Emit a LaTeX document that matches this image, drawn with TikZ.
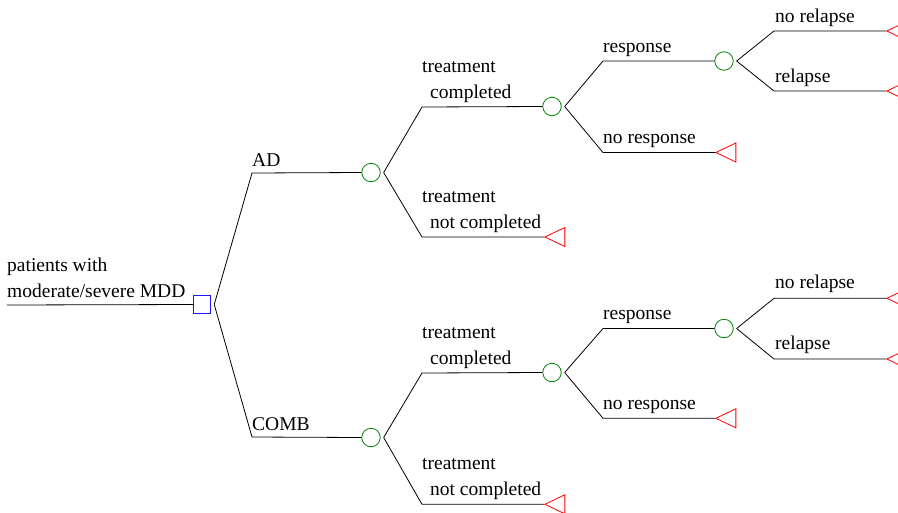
\documentclass[tikz,border=0pt]{standalone}
\usepackage{fontspec}
\setmainfont{Liberation Serif}
\usetikzlibrary{shapes.geometric}

\begin{document}
\begin{tikzpicture}[x=1pt, y=-1pt,
  every node/.style={font=\fontsize{19.5}{26}\selectfont},
  decision/.style={draw=blue!90!white, line width=1pt, rectangle, minimum width=17.5pt, minimum height=18.3pt, inner sep=0pt},
  chance/.style={draw=green!50!black, line width=0.8pt, circle, minimum size=18.5pt, inner sep=0pt},
  terminal/.style={draw=red, line width=0.8pt, isosceles triangle, isosceles triangle apex angle=56,
    isosceles triangle stretches, shape border rotate=180, minimum width=19pt, minimum height=20pt,
    inner sep=0pt, anchor=apex},
  branch/.style={line width=0.8pt},
  lab/.style={anchor=base west, inner sep=0pt, align=left},
]
\useasboundingbox (0,0) rectangle (898,512);

% root and decision
\coordinate (root) at (7,305);
\node[decision] (dec) at (202,304.5) {};
\node[lab] (lroot) at (7,297) {patients with\\moderate/severe MDD};
\draw[branch] (root) -- (dec.west);

% AD arm
\coordinate (kA) at (252,173);
\node[chance] (cA) at (371,172.5) {};
\node[lab] (lA) at (252,166) {AD};
\draw[branch] ([xshift=3pt]dec.east) -- (kA) -- (cA.west);

\coordinate (kA1) at (422,107);
\node[chance] (cA1) at (552,106.5) {};
\node[lab] (lA1) at (422,98) {treatment\\\hspace*{8pt}completed};
\draw[branch] ([xshift=3pt]cA.east) -- (kA1) -- (cA1.west);
\coordinate (kA2) at (422,237);
\node[terminal] (tA2) at (544,237) {};
\node[lab] (lA2) at (422,228) {treatment\\\hspace*{8pt}not completed};
\draw[branch] ([xshift=3pt]cA.east) -- (kA2) -- (tA2.apex);

\coordinate (kA11) at (603,61);
\node[chance] (cA11) at (724,61) {};
\node[lab] (lA11) at (603,52) {response};
\draw[branch] ([xshift=3pt]cA1.east) -- (kA11) -- (cA11.west);
\coordinate (kA12) at (603,152.5);
\node[terminal] (tA12) at (715,152.5) {};
\node[lab] (lA12) at (603,143.5) {no response};
\draw[branch] ([xshift=3pt]cA1.east) -- (kA12) -- (tA12.apex);

\coordinate (kA111) at (774,31);
\node[terminal] (tA111) at (886,31) {};
\node[lab] (lA111) at (775,22) {no relapse};
\draw[branch] ([xshift=3pt]cA11.east) -- (kA111) -- (tA111.apex);
\coordinate (kA112) at (774,91);
\node[terminal] (tA112) at (886,91) {};
\node[lab] (lA112) at (775,82) {relapse};
\draw[branch] ([xshift=3pt]cA11.east) -- (kA112) -- (tA112.apex);

% COMB arm
\coordinate (kB) at (252,437);
\node[chance] (cB) at (371,437.5) {};
\node[lab] (lB) at (252,430) {COMB};
\draw[branch] ([xshift=3pt]dec.east) -- (kB) -- (cB.west);

\coordinate (kB1) at (422,373);
\node[chance] (cB1) at (552,372.5) {};
\node[lab] (lB1) at (422,364.5) {treatment\\\hspace*{8pt}completed};
\draw[branch] ([xshift=3pt]cB.east) -- (kB1) -- (cB1.west);
\coordinate (kB2) at (422,504.3);
\node[terminal] (tB2) at (544,504.3) {};
\node[lab] (lB2) at (422,495) {treatment\\\hspace*{8pt}not completed};
\draw[branch] ([xshift=3pt]cB.east) -- (kB2) -- (tB2.apex);

\coordinate (kB11) at (603,328.5);
\node[chance] (cB11) at (724,328.5) {};
\node[lab] (lB11) at (603,319.5) {response};
\draw[branch] ([xshift=3pt]cB1.east) -- (kB11) -- (cB11.west);
\coordinate (kB12) at (603,418.3);
\node[terminal] (tB12) at (715,418.3) {};
\node[lab] (lB12) at (603,409.3) {no response};
\draw[branch] ([xshift=3pt]cB1.east) -- (kB12) -- (tB12.apex);

\coordinate (kB111) at (774,298.3);
\node[terminal] (tB111) at (886,298.3) {};
\node[lab] (lB111) at (775,288.3) {no relapse};
\draw[branch] ([xshift=3pt]cB11.east) -- (kB111) -- (tB111.apex);
\coordinate (kB112) at (774,359);
\node[terminal] (tB112) at (886,359) {};
\node[lab] (lB112) at (775,349.5) {relapse};
\draw[branch] ([xshift=3pt]cB11.east) -- (kB112) -- (tB112.apex);
\end{tikzpicture}
\end{document}
